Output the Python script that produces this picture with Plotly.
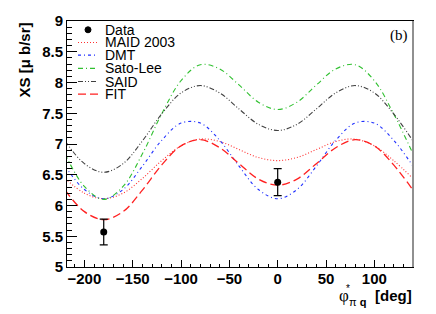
import plotly.graph_objects as go

# ---- data ----
phi = [-220, -200, -180, -160, -140, -120, -100, -80, -60, -40, -20,
       0, 20, 40, 60, 80, 100, 120, 140]
maid = [6.44, 6.20, 6.11, 6.20, 6.44, 6.73, 6.97, 7.08, 7.04, 6.91, 6.78,
        6.73, 6.78, 6.91, 7.04, 7.08, 6.97, 6.73, 6.44]
dmt = [6.64, 6.26, 6.11, 6.26, 6.64, 7.06, 7.34, 7.34, 7.06, 6.64, 6.26,
       6.11, 6.26, 6.64, 7.06, 7.34, 7.34, 7.06, 6.64]
sato_lee = [6.84, 6.31, 6.10, 6.31, 6.84, 7.49, 8.03, 8.29, 8.22, 7.96, 7.68,
            7.56, 7.68, 7.96, 8.22, 8.29, 8.03, 7.49, 6.84]
said = [7.05, 6.68, 6.54, 6.68, 7.05, 7.49, 7.83, 7.95, 7.83, 7.57, 7.32,
        7.22, 7.32, 7.57, 7.83, 7.95, 7.83, 7.49, 7.05]
fit = [6.25, 5.90, 5.77, 5.90, 6.25, 6.66, 6.97, 7.07, 6.94, 6.68, 6.43,
       6.33, 6.43, 6.68, 6.94, 7.07, 6.97, 6.66, 6.25]

data_phi = [-180, 0]
data_xs = [5.57, 6.38]
data_err = [0.21, 0.22]

x_ticks = [-200, -150, -100, -50, 0, 50, 100]
y_ticks = [5, 5.5, 6, 6.5, 7, 7.5, 8, 8.5, 9]
y_ticklabels = ["5", "5.5", "6", "6.5", "7", "7.5", "8", "8.5", "9"]

# ---- styles ----
series = [
    ("MAID 2003", maid, "#ff3030", "1px,2px", 1.1),
    ("DMT", dmt, "#2030ff", "3px,3px,1px,3px", 1.1),
    ("Sato-Lee", sato_lee, "#30c030", "5px,3px,1px,3px", 1.1),
    ("SAID", said, "#404040", "5px,2px,1px,2px,1px,2px", 1.1),
    ("FIT", fit, "#ff2020", "8px,4px", 1.3),
]

fig = go.Figure()
for name, ys, color, dash, w in series:
    fig.add_trace(go.Scatter(
        x=phi, y=ys, mode="lines", name=name, showlegend=False,
        line=dict(color=color, dash=dash, width=w, shape="spline", smoothing=1.0),
    ))

fig.add_trace(go.Scatter(
    x=data_phi, y=data_xs, mode="markers", name="Data", showlegend=False,
    marker=dict(color="black", size=7, symbol="circle"),
    error_y=dict(type="data", array=data_err, visible=True,
                 color="black", thickness=1.2, width=4),
))

L, R, T, B = 67, 23, 15, 47
W, H = 436, 314
pw, ph = W - L - R, H - T - B

def px2x(px):
    return (px - L) / pw

def py2y(py):
    return (H - B - py) / ph

font_b = dict(family="Liberation Sans, Arial, sans-serif", size=15, color="black", weight="bold")

fig.update_layout(
    width=W, height=H,
    margin=dict(l=L, r=R, t=T, b=B),
    paper_bgcolor="white", plot_bgcolor="white",
    showlegend=False,
    xaxis=dict(
        range=[-218, 140], tickmode="array", tickvals=x_ticks,
        ticks="inside", ticklen=7, tickwidth=1, tickcolor="black",
        minor=dict(dtick=10, tick0=0, ticks="inside", ticklen=3.5, tickcolor="black"),
        showline=True, linecolor="black", linewidth=1, mirror=True,
        showgrid=False, zeroline=False, ticklabelstandoff=-2,
        tickfont=font_b,
    ),
    yaxis=dict(
        range=[5, 9], tickmode="array", tickvals=y_ticks, ticktext=y_ticklabels,
        ticks="inside", ticklen=10, tickwidth=1, tickcolor="black",
        minor=dict(dtick=0.1, tick0=5, ticks="inside", ticklen=5, tickcolor="black"),
        showline=True, linecolor="black", linewidth=1, mirror=True,
        showgrid=False, zeroline=False,
        tickfont=font_b,
    ),
)

ann = []
# y axis title
ann.append(dict(text="XS [μ b/sr]", textangle=-90, x=px2x(24), y=1.0,
                xref="paper", yref="paper", xanchor="center", yanchor="top",
                showarrow=False, font=font_b))
# x axis title pieces
ann.append(dict(text="[deg]", x=px2x(414), y=py2y(296), xref="paper", yref="paper",
                xanchor="right", yanchor="middle", showarrow=False, font=font_b))
ann.append(dict(text="φ", x=px2x(344), y=py2y(296), xref="paper", yref="paper",
                xanchor="center", yanchor="middle", showarrow=False,
                font=dict(family="Liberation Serif, serif", size=17, color="black")))
ann.append(dict(text="π <b>q</b>", x=px2x(357), y=py2y(303), xref="paper", yref="paper",
                xanchor="center", yanchor="middle", showarrow=False,
                font=dict(family="Liberation Sans, Arial, sans-serif", size=11, color="black")))
ann.append(dict(text="*", x=px2x(348), y=py2y(289), xref="paper", yref="paper",
                xanchor="center", yanchor="middle", showarrow=False,
                font=dict(family="Liberation Sans, Arial, sans-serif", size=10, color="black")))
# panel tag
ann.append(dict(text="(b)", x=px2x(410), y=py2y(30), xref="paper", yref="paper",
                xanchor="right", yanchor="middle", showarrow=False,
                font=dict(family="Liberation Serif, serif", size=15, color="black")))

# manual compact legend
leg_rows = [24, 37, 50, 63.5, 77, 90]
leg_names = ["Data"] + [s[0] for s in series]
shapes = []
lx0, lx1, ltext = 78, 98, 103
for i, name in enumerate(leg_names):
    yy = py2y(leg_rows[i])
    ann.append(dict(text=name, x=px2x(ltext), y=yy, xref="paper", yref="paper",
                    xanchor="left", yanchor="middle", showarrow=False,
                    font=dict(family="Liberation Sans, Arial, sans-serif", size=14, color="black")))
    if i == 0:
        shapes.append(dict(type="circle", xref="paper", yref="paper",
                           xsizemode="pixel", ysizemode="pixel",
                           xanchor=px2x(88), yanchor=yy,
                           x0=-3, x1=3, y0=-3, y1=3,
                           fillcolor="black", line=dict(color="black", width=1)))
    else:
        _, _, color, dash, w = series[i - 1]
        shapes.append(dict(type="line", xref="paper", yref="paper",
                           x0=px2x(lx0), x1=px2x(lx1), y0=yy, y1=yy,
                           line=dict(color=color, dash=dash, width=w)))

# gray right frame edge
shapes.append(dict(type="line", xref="paper", yref="paper", x0=1.0, x1=1.0, y0=0, y1=1,
                   line=dict(color="#909090", width=2)))

fig.update_layout(annotations=ann, shapes=shapes)
fig.write_html("out.html", config={"displayModeBar": False},
               post_script="document.body.style.margin='0px';")
